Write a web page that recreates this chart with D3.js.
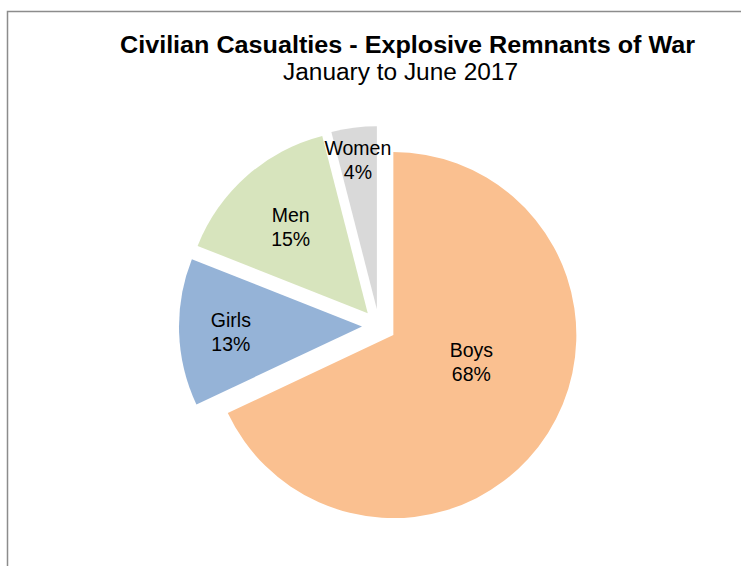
<!DOCTYPE html>
<html>
<head>
<meta charset="utf-8">
<script src="https://cdn.jsdelivr.net/npm/d3@7"></script>
<style>
  body { margin: 0; background: #fff; }
  svg text { font-family: "Liberation Sans", Arial, sans-serif; fill: #000; }
</style>
</head>
<body>
<svg id="pieSVG" width="741" height="566"></svg>
<script>
// chart data
let categories = ['Boys', 'Girls', 'Men', 'Women'];
let shares = [68, 13, 15, 4];
let colors = ['#fac090', '#95b3d7', '#d7e4bd', '#d9d9d9'];
let titleText = 'Civilian Casualties - Explosive Remnants of War';
let subtitleText = 'January to June 2017';

// label placement: fraction of radius and angle nudge (deg) per slice
let labelFrac = [0.54, 0.81, 0.73, 0.92];
let labelNudge = [-11.6, 0, 0, 0];

let svg = d3.select('svg#pieSVG');

// frame (cut off at right and bottom like the source)
svg.append('rect')
  .attr('x', 7.5).attr('y', 11.5)
  .attr('width', 900).attr('height', 700)
  .attr('fill', 'none')
  .attr('stroke', '#8c8c8c')
  .attr('stroke-width', 1.5);

// titles
svg.append('text')
  .attr('x', 407.5).attr('y', 53)
  .attr('text-anchor', 'middle')
  .attr('font-size', 23.5)
  .attr('font-weight', 'bold')
  .attr('textLength', 575)
  .attr('lengthAdjust', 'spacingAndGlyphs')
  .text(titleText);
svg.append('text')
  .attr('x', 400.5).attr('y', 80)
  .attr('text-anchor', 'middle')
  .attr('font-size', 23)
  .attr('textLength', 235)
  .attr('lengthAdjust', 'spacingAndGlyphs')
  .text(subtitleText);

let cx = 379, cy = 326;
let radius = 183;
let explode = 17;

let rows = categories.map((c, i) => ({name: c, value: shares[i], color: colors[i], idx: i}));

let pie = d3.pie()
  .sort(null)
  .value(d => d.value);

let arc = d3.arc()
  .innerRadius(0)
  .outerRadius(radius);

let g = svg.append('g')
  .attr('transform', `translate(${cx}, ${cy})`);

let slices = g.selectAll('g.slice')
  .data(pie(rows))
  .enter().append('g')
  .attr('class', 'slice')
  .attr('transform', d => {
    let mid = (d.startAngle + d.endAngle) / 2;
    return `translate(${explode * Math.sin(mid)}, ${-explode * Math.cos(mid)})`;
  });

slices.append('path')
  .attr('d', arc)
  .attr('fill', d => d.data.color);

// labels, placed relative to the pie centre
let labels = g.selectAll('g.lbl')
  .data(pie(rows))
  .enter().append('g')
  .attr('class', 'lbl')
  .attr('transform', d => {
    let i = d.data.idx;
    let mid = (d.startAngle + d.endAngle) / 2 + labelNudge[i] * Math.PI / 180;
    let r = radius * labelFrac[i];
    return `translate(${r * Math.sin(mid)}, ${-r * Math.cos(mid)})`;
  });

labels.append('text')
  .attr('text-anchor', 'middle')
  .attr('y', -4)
  .attr('font-size', 19.5)
  .text(d => d.data.name);
labels.append('text')
  .attr('text-anchor', 'middle')
  .attr('y', 20)
  .attr('font-size', 19.5)
  .text(d => d.data.value + '%');
</script>
</body>
</html>
